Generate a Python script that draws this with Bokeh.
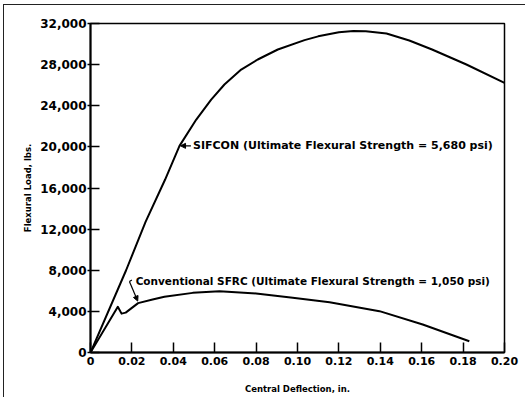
from bokeh.plotting import figure
from bokeh.models import Range1d, FixedTicker, Arrow, NormalHead, Label, NumeralTickFormatter, PrintfTickFormatter
from bokeh.core.properties import value
from bokeh.embed import file_html
from bokeh.resources import INLINE

# SIFCON load-deflection curve
sifcon_x = [0, 0.0172, 0.0266, 0.036, 0.0430, 0.0511, 0.0583, 0.0647, 0.0728, 0.0808, 0.0905, 0.1034, 0.110, 0.120, 0.127, 0.133, 0.143, 0.154, 0.165, 0.1816, 0.200]
sifcon_y = [0, 8000, 12700, 16800, 20100, 22660, 24600, 26070, 27520, 28500, 29470, 30380, 30750, 31150, 31280, 31250, 31030, 30350, 29470, 28010, 26230]

# Conventional SFRC load-deflection curve
sfrc_x = [0, 0.0132, 0.0150, 0.0170, 0.0230, 0.0300, 0.0357, 0.0494, 0.0623, 0.080, 0.0977, 0.1155, 0.1396, 0.1605, 0.183]
sfrc_y = [0, 4450, 3780, 3880, 4800, 5150, 5420, 5800, 5960, 5740, 5320, 4890, 4020, 2720, 1100]

x_ticks = [0, 0.02, 0.04, 0.06, 0.08, 0.10, 0.12, 0.14, 0.16, 0.18, 0.20]
y_ticks = [0, 4000, 8000, 12000, 16000, 20000, 24000, 28000, 32000]

FONT = "DejaVu Sans"

p = figure(width=522, height=393, x_range=Range1d(0, 0.2), y_range=Range1d(0, 32000),
           output_backend="svg", toolbar_location=None,
           min_border_left=86, min_border_right=22, min_border_top=18, min_border_bottom=46)
p.grid.visible = False
p.outline_line_color = "black"
p.outline_line_width = 1.5
p.background_fill_color = "white"
p.border_fill_color = "white"

for ax in (p.xaxis[0], p.yaxis[0]):
    ax.axis_line_color = "black"
    ax.axis_line_width = 2
    ax.major_tick_line_color = "black"
    ax.major_tick_line_width = 1.5
    ax.minor_tick_line_color = None
    ax.major_label_text_font = FONT
    ax.major_label_text_font_style = "bold"
    ax.major_label_text_color = "black"
    ax.axis_label_text_font = FONT
    ax.axis_label_text_font_style = "bold"
    ax.axis_label_text_font_size = "8.5px"
    ax.axis_label_text_color = "black"

p.xaxis.ticker = FixedTicker(ticks=x_ticks)
p.xaxis.formatter = PrintfTickFormatter(format="%.2f")
p.xaxis.major_label_overrides = {0: "0"}
p.xaxis.major_label_text_font_size = "11px"
p.xaxis.major_tick_in = 10
p.xaxis.major_tick_out = 0
p.xaxis.major_label_standoff = 4
p.xaxis.axis_label = "Central Deflection, in."
p.xaxis.axis_label_standoff = 16

p.yaxis.ticker = FixedTicker(ticks=y_ticks)
p.yaxis.formatter = NumeralTickFormatter(format="0,0")
p.yaxis.major_label_text_font_size = "12px"
p.yaxis.major_tick_in = 9
p.yaxis.major_tick_out = 3
p.yaxis.major_label_standoff = 1
p.yaxis.axis_label = "Flexural Load, lbs."
p.yaxis.axis_label_standoff = 4

p.line(sifcon_x, sifcon_y, line_color="black", line_width=2, line_join="round")
p.line(sfrc_x, sfrc_y, line_color="black", line_width=2, line_join="round")

# Annotations
p.add_layout(Arrow(end=NormalHead(size=5, fill_color="black", line_color="black"),
                   x_start=0.0485, y_start=20100, x_end=0.0435, y_end=20100,
                   line_color="black", line_width=1.2))
p.add_layout(Label(x=0.0495, y=20100, text="SIFCON (Ultimate Flexural Strength = 5,680 psi)",
                   text_font=FONT, text_font_style="bold", text_font_size="11px",
                   text_baseline="middle", text_color="black"))

p.add_layout(Arrow(end=NormalHead(size=5, fill_color="black", line_color="black"),
                   x_start=0.0188, y_start=6900, x_end=0.0228, y_end=5000,
                   line_color="black", line_width=1.2))
p.line([0.0188, 0.0200], [6900, 7050], line_color="black", line_width=1.2)
p.add_layout(Label(x=0.0218, y=6935, text="Conventional SFRC (Ultimate Flexural Strength = 1,050 psi)",
                   text_font=FONT, text_font_style="bold", text_font_size="10.5px",
                   text_baseline="middle", text_color="black"))

# outer page frame (left and top edges of the scanned page)
p.styles = {"border-left": "1px solid #222", "border-top": "1px solid #222",
            "margin-left": "3px", "margin-top": "4px"}

open("out.html", "w").write(file_html(p, INLINE))
